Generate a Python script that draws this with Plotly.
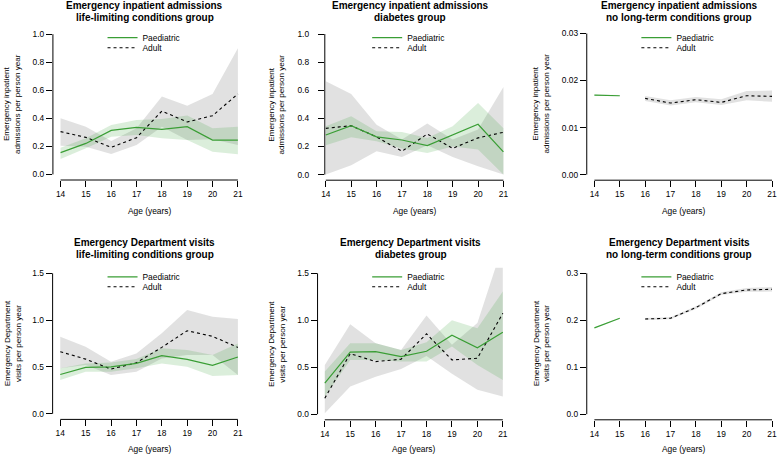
import plotly.graph_objects as go

# ---------------- data ----------------
ages = [14, 15, 16, 17, 18, 19, 20, 21]

# Emergency inpatient admissions - life-limiting conditions
ia_ll_paed = [0.155, 0.221, 0.314, 0.336, 0.321, 0.340, 0.245, 0.245]
ia_ll_paed_lo = [0.110, 0.186, 0.269, 0.281, 0.257, 0.245, 0.162, 0.143]
ia_ll_paed_hi = [0.190, 0.257, 0.352, 0.388, 0.395, 0.420, 0.329, 0.340]
ia_ll_adult = [0.305, 0.264, 0.193, 0.262, 0.452, 0.374, 0.419, 0.574]
ia_ll_adult_lo = [0.205, 0.198, 0.145, 0.210, 0.340, 0.245, 0.250, 0.210]
ia_ll_adult_hi = [0.400, 0.340, 0.238, 0.330, 0.555, 0.490, 0.574, 0.900]

# Emergency inpatient admissions - diabetes
ia_db_paed = [0.282, 0.348, 0.268, 0.246, 0.206, 0.282, 0.358, 0.161]
ia_db_paed_lo = [0.209, 0.265, 0.237, 0.185, 0.154, 0.200, 0.178, 0.000]
ia_db_paed_hi = [0.344, 0.415, 0.308, 0.303, 0.260, 0.344, 0.510, 0.330]
ia_db_adult = [0.329, 0.348, 0.268, 0.166, 0.289, 0.187, 0.261, 0.301]
ia_db_adult_lo = [0.000, 0.066, 0.166, 0.126, 0.209, 0.126, 0.060, 0.000]
ia_db_adult_hi = [0.664, 0.573, 0.355, 0.250, 0.363, 0.250, 0.320, 0.623]

# Emergency inpatient admissions - no long-term conditions
ia_nl_paed = [0.0169, 0.01677, None, None, None, None, None, None]
ia_nl_paed_lo = [0.01677, 0.01664, None, None, None, None, None, None]
ia_nl_paed_hi = [0.01703, 0.01690, None, None, None, None, None, None]
ia_nl_adult = [None, None, 0.0162, 0.01521, 0.01592, 0.01535, 0.01677, 0.01663]
ia_nl_adult_lo = [None, None, 0.01565, 0.01470, 0.01540, 0.01480, 0.01580, 0.01550]
ia_nl_adult_hi = [None, None, 0.01670, 0.01580, 0.01650, 0.01600, 0.01775, 0.01790]

# Emergency Department visits - life-limiting conditions
ed_ll_paed = [0.420, 0.495, 0.502, 0.538, 0.620, 0.581, 0.517, 0.606]
ed_ll_paed_lo = [0.360, 0.449, 0.449, 0.485, 0.538, 0.502, 0.403, 0.413]
ed_ll_paed_hi = [0.485, 0.538, 0.549, 0.584, 0.700, 0.680, 0.627, 0.750]
ed_ll_adult = [0.663, 0.584, 0.477, 0.545, 0.709, 0.887, 0.827, 0.709]
ed_ll_adult_lo = [0.485, 0.520, 0.413, 0.449, 0.591, 0.627, 0.627, 0.413]
ed_ll_adult_hi = [0.823, 0.716, 0.556, 0.645, 0.859, 1.108, 1.037, 1.012]

# Emergency Department visits - diabetes
ed_db_paed = [0.330, 0.660, 0.667, 0.613, 0.670, 0.840, 0.706, 0.872]
ed_db_paed_lo = [0.188, 0.578, 0.578, 0.560, 0.560, 0.720, 0.525, 0.365]
ed_db_paed_hi = [0.454, 0.755, 0.755, 0.684, 0.766, 1.000, 0.915, 1.305]
ed_db_adult = [0.170, 0.645, 0.560, 0.585, 0.855, 0.578, 0.596, 1.074]
ed_db_adult_lo = [0.010, 0.294, 0.400, 0.482, 0.620, 0.430, 0.259, 0.188]
ed_db_adult_hi = [0.525, 0.957, 0.755, 0.684, 1.050, 0.740, 0.970, 1.800]

# Emergency Department visits - no long-term conditions
ed_nl_paed = [0.1837, 0.2043, None, None, None, None, None, None]
ed_nl_paed_lo = [0.1829, 0.2035, None, None, None, None, None, None]
ed_nl_paed_hi = [0.1845, 0.2051, None, None, None, None, None, None]
ed_nl_adult = [None, None, 0.2028, 0.2043, 0.2270, 0.2567, 0.2645, 0.2660]
ed_nl_adult_lo = [None, None, 0.2008, 0.2023, 0.2240, 0.2537, 0.2605, 0.2610]
ed_nl_adult_hi = [None, None, 0.2048, 0.2063, 0.2300, 0.2597, 0.2685, 0.2710]

titles_line1 = ["Emergency inpatient admissions"] * 3 + ["Emergency Department visits"] * 3
titles_line2 = ["life-limiting conditions group", "diabetes group", "no long-term conditions group"] * 2
ylabels = ["Emergency inpatient<br>admissions per person year"] * 3 + \
          ["Emergency Department<br>visits per person year"] * 3
xlabel = "Age (years)"
series_names = ["Paediatric", "Adult"]

yticks_top = [0, 0.2, 0.4, 0.6, 0.8, 1.0]
yticks_top_nl = [0, 0.01, 0.02, 0.03]
yticks_bot = [0, 0.5, 1.0, 1.5]
yticks_bot_nl = [0, 0.1, 0.2, 0.3]

panels = [
    (ia_ll_paed, ia_ll_paed_lo, ia_ll_paed_hi, ia_ll_adult, ia_ll_adult_lo, ia_ll_adult_hi, yticks_top, ".1f"),
    (ia_db_paed, ia_db_paed_lo, ia_db_paed_hi, ia_db_adult, ia_db_adult_lo, ia_db_adult_hi, yticks_top, ".1f"),
    (ia_nl_paed, ia_nl_paed_lo, ia_nl_paed_hi, ia_nl_adult, ia_nl_adult_lo, ia_nl_adult_hi, yticks_top_nl, ".2f"),
    (ed_ll_paed, ed_ll_paed_lo, ed_ll_paed_hi, ed_ll_adult, ed_ll_adult_lo, ed_ll_adult_hi, yticks_bot, ".1f"),
    (ed_db_paed, ed_db_paed_lo, ed_db_paed_hi, ed_db_adult, ed_db_adult_lo, ed_db_adult_hi, yticks_bot, ".1f"),
    (ed_nl_paed, ed_nl_paed_lo, ed_nl_paed_hi, ed_nl_adult, ed_nl_adult_lo, ed_nl_adult_hi, yticks_bot_nl, ".1f"),
]

# ---------------- layout geometry (pixels) ----------------
W, H = 777, 455
# left(yaxis), px of x=14, px of x=21, right edge, px of y=0, px of y=max, bottom(x axis line)
geom = [
    (49.3, 57.0, 235.7, 243.4, 174.4, 34.2, 180.0),
    (323.3, 324.3, 503.3, 510.0, 174.6, 34.0, 180.2),
    (587.3, 595.0, 774.0, 777.0, 174.6, 33.5, 180.2),
    (49.0, 56.7, 235.7, 243.4, 413.8, 273.3, 419.4),
    (316.0, 323.3, 502.7, 510.0, 414.2, 273.3, 419.8),
    (587.3, 595.0, 774.0, 777.0, 414.2, 273.3, 419.8),
]
ytick_standoff = [0, 7, 0, 0, 0, 0]
title_cx = [142, 409.5, 680.3, 142, 410, 680.3]
title_y = [(5.6, 17.3), (5.6, 17.3), (5.6, 17.3), (242.6, 254.6), (242.6, 254.6), (242.6, 254.6)]
ylab_cx = [8.7, 275.3, 541.7, 8.7, 275.3, 541.7]
xlab_y = [210.7, 210.7, 210.7, 449.3, 449.3, 449.3]
legend_text_x = [139.3, 406.0, 677.3, 139.3, 406.0, 677.3]
legend_rows = [(37.7, 47.7)] * 3 + [(276.8, 286.8)] * 3

GREEN = "#3a9e35"
GREEN_BAND = "rgba(58,158,53,0.18)"
GREY_BAND = "rgba(140,140,140,0.26)"
FONT = "Liberation Sans"
FS = 8.4

fig = go.Figure()
shapes, annotations = [], []


def band_xy(lo, hi):
    idx = [i for i in range(len(ages)) if lo[i] is not None]
    xs = [ages[i] for i in idx] + [ages[i] for i in reversed(idx)]
    ys = [hi[i] for i in idx] + [lo[i] for i in reversed(idx)]
    return xs, ys


for k, (p, plo, phi, a, alo, ahi, yt, fmt) in enumerate(panels):
    n = "" if k == 0 else str(k + 1)
    xa, ya = "x" + n, "y" + n
    left, x14, x21, right, y0, ymx, bottom = geom[k]
    ymaxv = yt[-1]
    ux = (x21 - x14) / (ages[-1] - ages[0])
    xr = [ages[0] - (x14 - left) / ux, ages[-1] + (right - x21) / ux]
    top = ymx - (bottom - y0)
    uy = (y0 - ymx) / ymaxv
    yr = [-(bottom - y0) / uy, ymaxv + (ymx - top) / uy]

    fig.layout["xaxis" + n] = dict(
        domain=[left / W, right / W], range=xr, anchor=ya,
        tickmode="array", tickvals=ages, ticks="outside", ticklen=6, tickwidth=1,
        tickcolor="black", showgrid=False, zeroline=False, showline=False,
        ticklabeloverflow="allow",
        tickfont=dict(family=FONT, size=FS, color="black"), fixedrange=True,
    )
    fig.layout["yaxis" + n] = dict(
        domain=[1 - bottom / H, 1 - top / H], range=yr, anchor=xa,
        tickmode="array", tickvals=yt, tickformat=fmt, ticks="outside", ticklen=6,
        tickwidth=1, tickcolor="black", showgrid=False, zeroline=False, showline=False,
        ticklabelstandoff=ytick_standoff[k],
        tickfont=dict(family=FONT, size=FS, color="black"), fixedrange=True,
    )

    # bands
    bx, by = band_xy(alo, ahi)
    fig.add_trace(go.Scatter(x=bx, y=by, fill="toself", fillcolor=GREY_BAND, mode="none",
                             line=dict(width=0), showlegend=False, hoverinfo="skip",
                             xaxis=xa, yaxis=ya))
    bx, by = band_xy(plo, phi)
    fig.add_trace(go.Scatter(x=bx, y=by, fill="toself", fillcolor=GREEN_BAND, mode="none",
                             line=dict(width=0), showlegend=False, hoverinfo="skip",
                             xaxis=xa, yaxis=ya))
    # lines
    lg1 = "legend" if k == 0 else "legend" + str(2 * k + 1)
    lg2 = "legend" + str(2 * k + 2)
    fig.add_trace(go.Scatter(x=ages, y=a, mode="lines", name=series_names[1],
                             line=dict(color="black", width=1.1, dash="3px,3px"),
                             connectgaps=False, xaxis=xa, yaxis=ya, legend=lg2))
    fig.add_trace(go.Scatter(x=ages, y=p, mode="lines", name=series_names[0],
                             line=dict(color=GREEN, width=1.2),
                             connectgaps=False, xaxis=xa, yaxis=ya, legend=lg1))

    for lg, ry in ((lg1, legend_rows[k][0]), (lg2, legend_rows[k][1])):
        fig.layout[lg] = dict(
            x=(legend_text_x[k] - 40) / W, xanchor="left", y=1 - ry / H, yanchor="middle",
            bgcolor="rgba(0,0,0,0)", borderwidth=0, itemwidth=30,
            font=dict(family=FONT, size=FS, color="black"), itemclick=False,
            itemdoubleclick=False,
        )

    # axis lines (R style: span first to last tick)
    shapes.append(dict(type="line", xref=xa, yref=ya + " domain", x0=ages[0], x1=ages[-1],
                       y0=0, y1=0, line=dict(color="black", width=1)))
    shapes.append(dict(type="line", xref=xa + " domain", yref=ya, x0=0, x1=0,
                       y0=yt[0], y1=yt[-1], line=dict(color="black", width=1)))

    # titles
    for txt, ty in ((titles_line1[k], title_y[k][0]), (titles_line2[k], title_y[k][1])):
        annotations.append(dict(text="<b>" + txt + "</b>", x=title_cx[k] / W, y=1 - ty / H,
                                xref="paper", yref="paper", xanchor="center", yanchor="middle",
                                showarrow=False, font=dict(family=FONT, size=10, color="black")))
    # y label
    annotations.append(dict(text=ylabels[k], x=ylab_cx[k] / W, y=1 - (ymx + y0) / 2 / H,
                            xref="paper", yref="paper", xanchor="center", yanchor="middle",
                            textangle=-90, showarrow=False,
                            font=dict(family=FONT, size=8.1, color="black")))
    # x label
    annotations.append(dict(text=xlabel, x=((x14 + x21) / 2) / W, y=1 - xlab_y[k] / H,
                            xref="paper", yref="paper", xanchor="center", yanchor="middle",
                            showarrow=False, font=dict(family=FONT, size=FS, color="black")))

fig.update_layout(
    width=W, height=H, margin=dict(l=0, r=0, t=0, b=0),
    paper_bgcolor="white", plot_bgcolor="white",
    shapes=shapes, annotations=annotations,
    font=dict(family=FONT, size=FS, color="black"),
    hovermode=False,
)

fig.write_html("out.html", config={"displayModeBar": False},
               post_script="document.body.style.margin='0';document.body.style.overflow='hidden';")
